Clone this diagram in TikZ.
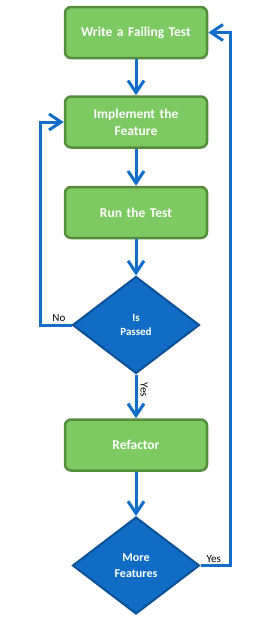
\documentclass[tikz,border=0pt]{standalone}
\usepackage{fontspec}
\setmainfont{Carlito}
\usetikzlibrary{shapes.geometric,arrows.meta}
\definecolor{boxgreen}{RGB}{125,201,98}
\definecolor{boxedge}{RGB}{86,140,62}
\definecolor{decblue}{RGB}{16,108,196}
\definecolor{decedge}{RGB}{12,80,150}
\definecolor{lineblue}{RGB}{18,110,200}
\tikzset{
  stepbox/.style={draw=boxedge,fill=boxgreen,line width=2.5pt,rounded corners=6pt,
    minimum width=142pt,minimum height=51pt,text width=130pt,align=center,
    text=white,font=\bfseries\fontsize{13.5}{17}\selectfont},
  decision/.style={diamond,draw=decedge,fill=decblue,line width=2pt,inner sep=0pt,
    minimum width=127pt,minimum height=97pt,align=center,text=white},
  flow/.style={draw=lineblue,line width=3pt,-{Straight Barb[length=12pt,width=16pt,line width=3pt]}},
  lbl/.style={font=\fontsize{11}{13}\selectfont,text=black,inner sep=1.5pt}
}
\begin{document}
\begin{tikzpicture}[x=1pt,y=-1pt]
    \useasboundingbox[fill=white] (0,0) rectangle (277,621);
    \node[stepbox] (write) at (136,32.5) {Write a Failing Test};
    \node[stepbox] (impl) at (136,122) {Implement the\\Feature};
    \node[stepbox] (run) at (136,212.5) {Run the Test};
    \node[decision,font=\bfseries\fontsize{11}{14.5}\selectfont] (pass) at (136,325) {Is\\Passed};
    \node[stepbox] (refac) at (136,445) {Refactor};
    \node[decision,font=\bfseries\fontsize{12}{15.5}\selectfont] (more) at (136,565.5) {More\\Features};
    \coordinate (noturn) at (40,325);
    \coordinate (yesturn) at (230,565.5);
    \draw[flow] (write) -- (impl);
    \draw[flow] (impl) -- (run);
    \draw[flow] (run) -- (pass);
    \draw[flow] (pass) -- node[lbl,rotate=-90,anchor=south,inner sep=3pt,pos=0.35] {Yes} (refac);
    \draw[flow] (refac) -- (more);
    \draw[flow] (pass.west) -- node[lbl,above,pos=0.4] {No} (noturn) |- (impl.west);
    \draw[flow] (more.east) -- node[lbl,above,pos=0.45] {Yes} (yesturn) |- (write.east);
\end{tikzpicture}
\end{document}
